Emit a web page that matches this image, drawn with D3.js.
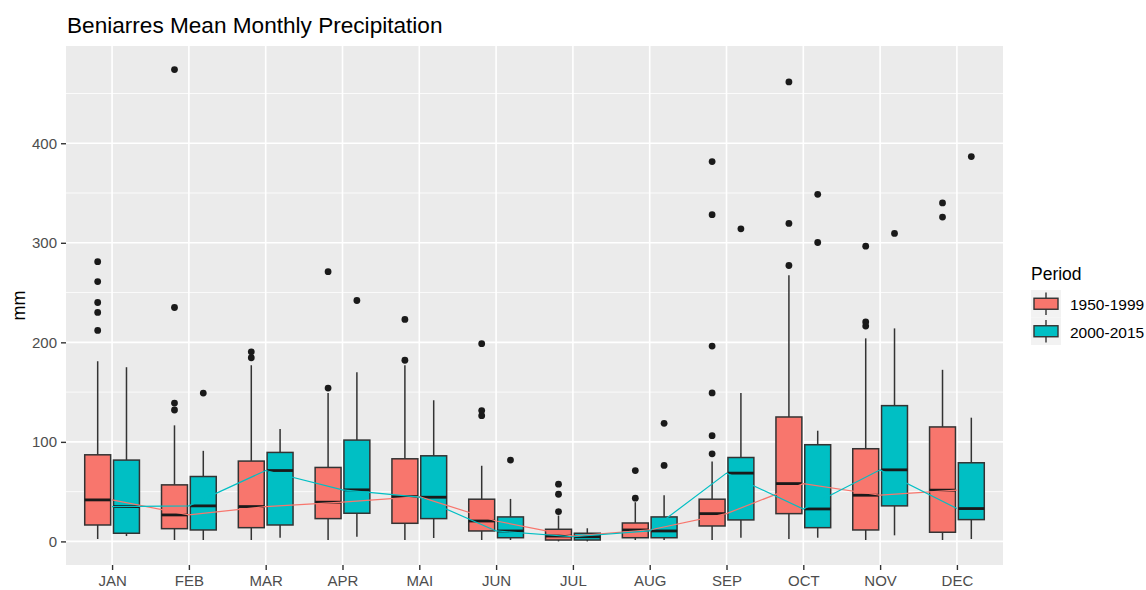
<!DOCTYPE html>
<html>
<head>
<meta charset="utf-8">
<script src="https://cdn.jsdelivr.net/npm/d3@7"></script>
<style>
  html, body { margin: 0; padding: 0; background: #ffffff; }
  svg { display: block; font-family: Arial, "Liberation Sans", sans-serif; }
</style>
</head>
<body>
<svg id="chart" width="1146" height="590"></svg>
<script>
// Months on the x axis
const months = ["JAN","FEB","MAR","APR","MAI","JUN","JUL","AUG","SEP","OCT","NOV","DEC"];
const periods = ["1950-1999", "2000-2015"];
const yTicks = [0, 100, 200, 300, 400];

// Box statistics, 1950-1999 (mm)
const low1950    = [2.4, 1.4, 1.4, 1.4, 1.4, 1.4, 0, 1.4, 1.4, 2.4, 1.4, 1.4];
const q1_1950    = [16.5, 12.8, 13.8, 22.9, 18.2, 10.5, 1.4, 3.7, 15.5, 27.9, 11.5, 9.2];
const med1950    = [41.7, 26.6, 35, 39.4, 45, 20.5, 5.4, 11.5, 27.9, 58.1, 46.4, 51.5];
const q3_1950    = [87, 56.8, 80.7, 74.3, 83, 42.4, 12.2, 18.5, 42.4, 125, 93.1, 115];
const high1950   = [181, 116.6, 177, 149, 177, 76, 26, 39.4, 80.3, 267.4, 204, 172.4];
const out1950    = [
  [212, 230, 240, 261, 281],
  [132, 139, 235, 474],
  [184.5, 190.5],
  [154, 271],
  [182, 223],
  [126.3, 131.4, 198.6],
  [30, 47.4, 57.5],
  [43.4, 71.2],
  [88, 106.2, 149.2, 196.2, 328.2, 381.6],
  [277.2, 319.5, 461.6],
  [216.3, 220.4, 296.6],
  [325.8, 340]
];

// Box statistics, 2000-2015 (mm)
const low2000    = [5.4, 1.4, 3.7, 4.7, 3.4, 1.4, 0, 1.4, 3.7, 3.7, 6.1, 2.4];
const q1_2000    = [8.2, 11.5, 16.5, 28.3, 22.9, 3.7, 1.4, 3.7, 21.6, 13.8, 35.7, 21.9];
const med2000    = [35, 35.7, 71.2, 51.8, 44.4, 10.5, 4.7, 10.5, 68.6, 32.6, 71.9, 33];
const q3_2000    = [81.7, 65.2, 89.4, 101.8, 86, 24.6, 8.2, 24.6, 84.3, 97.1, 136.4, 79];
const high2000   = [175, 91, 113, 170, 141.8, 42.7, 13.2, 46.4, 149.2, 111.2, 214, 124.3];
const out2000    = [
  [], [149], [], [242], [], [81.7], [], [76.3, 118.6], [314], [300.3, 348.7], [309.4], [386.6]
];

const fills = ["#F8766D", "#00BFC4"];

// Assemble per-period rows from the arrays above
const stats = [
  { low: low1950, q1: q1_1950, med: med1950, q3: q3_1950, high: high1950, out: out1950 },
  { low: low2000, q1: q1_2000, med: med2000, q3: q3_2000, high: high2000, out: out2000 }
];
const boxes = [];
stats.forEach((s, p) => months.forEach((m, i) => boxes.push({
  month: m, period: p, low: s.low[i], q1: s.q1[i], med: s.med[i], q3: s.q3[i], high: s.high[i], out: s.out[i]
})));

const svg = d3.select("#chart");
const panel = { left: 66, right: 1003, top: 46, bottom: 565 };

// Discrete x with 0.6-step expansion on each side
const x = d3.scalePoint().domain(months).range([panel.left, panel.right]).padding(0.6);
const step = x.step();

// Continuous y with 5% expansion of the data range
const allVals = boxes.flatMap(b => [b.low, b.high, ...b.out]);
const yMin = d3.min(allVals), yMax = d3.max(allVals);
const pad = (yMax - yMin) * 0.05;
const y = d3.scaleLinear().domain([yMin - pad, yMax + pad]).range([panel.bottom, panel.top]);

// Panel background and grid
svg.append("rect")
  .attr("x", panel.left).attr("y", panel.top)
  .attr("width", panel.right - panel.left).attr("height", panel.bottom - panel.top)
  .attr("fill", "#EBEBEB");

const minorTicks = [50, 150, 250, 350, 450];
svg.append("g").selectAll("line").data(minorTicks).join("line")
  .attr("x1", panel.left).attr("x2", panel.right)
  .attr("y1", d => y(d)).attr("y2", d => y(d))
  .attr("stroke", "#ffffff").attr("stroke-width", 0.8);
svg.append("g").selectAll("line").data(yTicks).join("line")
  .attr("x1", panel.left).attr("x2", panel.right)
  .attr("y1", d => y(d)).attr("y2", d => y(d))
  .attr("stroke", "#ffffff").attr("stroke-width", 1.6);
svg.append("g").selectAll("line").data(months).join("line")
  .attr("x1", d => x(d)).attr("x2", d => x(d))
  .attr("y1", panel.top).attr("y2", panel.bottom)
  .attr("stroke", "#ffffff").attr("stroke-width", 1.6);

// Dodged boxplots
const dodge = step * 0.75;
const slot = dodge / 2;
const boxW = slot * 0.9;
const cx = b => x(b.month) - dodge / 2 + slot * (b.period + 0.5);

const ink = "#333333";
const gBox = svg.append("g");
const bg = gBox.selectAll("g").data(boxes).join("g");
bg.append("line")
  .attr("x1", cx).attr("x2", cx)
  .attr("y1", d => y(d.q3)).attr("y2", d => y(d.high))
  .attr("stroke", ink).attr("stroke-width", 1.5);
bg.append("line")
  .attr("x1", cx).attr("x2", cx)
  .attr("y1", d => y(d.q1)).attr("y2", d => y(d.low))
  .attr("stroke", ink).attr("stroke-width", 1.5);
bg.append("rect")
  .attr("x", d => cx(d) - boxW / 2).attr("width", boxW)
  .attr("y", d => y(d.q3)).attr("height", d => y(d.q1) - y(d.q3))
  .attr("fill", d => fills[d.period])
  .attr("stroke", ink).attr("stroke-width", 1.5);
bg.append("line")
  .attr("x1", d => cx(d) - boxW / 2).attr("x2", d => cx(d) + boxW / 2)
  .attr("y1", d => y(d.med)).attr("y2", d => y(d.med))
  .attr("stroke", "#1a1a1a").attr("stroke-width", 2.8);
bg.selectAll("circle").data(d => d.out.map(v => ({ v, b: d }))).join("circle")
  .attr("cx", d => cx(d.b)).attr("cy", d => y(d.v)).attr("r", 3.4)
  .attr("fill", "#1a1a1a");

// Median lines joining the months, one per period
const line = d3.line().x(d => x(d.month)).y(d => y(d.med));
periods.forEach((p, i) => {
  svg.append("path")
    .datum(boxes.filter(b => b.period === i))
    .attr("d", line)
    .attr("fill", "none")
    .attr("stroke", fills[i])
    .attr("stroke-width", 1.2);
});

// Axes
const yAxis = svg.append("g").attr("transform", `translate(${panel.left},0)`)
  .call(d3.axisLeft(y).tickValues(yTicks).tickSize(5).tickPadding(4));
const xAxis = svg.append("g").attr("transform", `translate(0,${panel.bottom})`)
  .call(d3.axisBottom(x).tickSize(5).tickPadding(5));
[yAxis, xAxis].forEach(g => {
  g.select(".domain").remove();
  g.selectAll(".tick line").attr("stroke", ink).attr("stroke-width", 1.4);
  g.selectAll(".tick text").attr("fill", "#4D4D4D").style("font-size", "15px")
    .style("font-family", "Arial, 'Liberation Sans', sans-serif");
});

// Titles
svg.append("text")
  .attr("x", 67).attr("y", 33)
  .style("font-size", "22.6px").attr("fill", "#000000")
  .text("Beniarres Mean Monthly Precipitation");

svg.append("text")
  .attr("transform", `translate(25,${(panel.top + panel.bottom) / 2}) rotate(-90)`)
  .attr("text-anchor", "middle")
  .style("font-size", "18px").attr("fill", "#000000")
  .text("mm");

// Legend
const legend = svg.append("g");
legend.append("text")
  .attr("x", 1031).attr("y", 280)
  .style("font-size", "17.5px").attr("fill", "#000000")
  .text("Period");

const keyH = 27.5, keyW = 30, keyX = 1031, keyY = 290;
const lk = legend.selectAll("g.key").data(periods).join("g").attr("class", "key")
  .attr("transform", (d, i) => `translate(${keyX},${keyY + i * keyH})`);
lk.append("rect").attr("width", keyW).attr("height", keyH).attr("fill", "#F2F2F2");
lk.append("line")
  .attr("x1", keyW / 2).attr("x2", keyW / 2).attr("y1", 2.5).attr("y2", keyH - 2.5)
  .attr("stroke", ink).attr("stroke-width", 1.4);
lk.append("rect")
  .attr("x", 3).attr("width", keyW - 6)
  .attr("y", keyH / 2 - 5.5).attr("height", 11)
  .attr("fill", (d, i) => fills[i])
  .attr("stroke", ink).attr("stroke-width", 1.4);
lk.append("text")
  .attr("x", 39).attr("y", keyH / 2 + 1)
  .attr("dominant-baseline", "central")
  .style("font-size", "15.5px").attr("fill", "#000000")
  .text(d => d);
</script>
</body>
</html>
